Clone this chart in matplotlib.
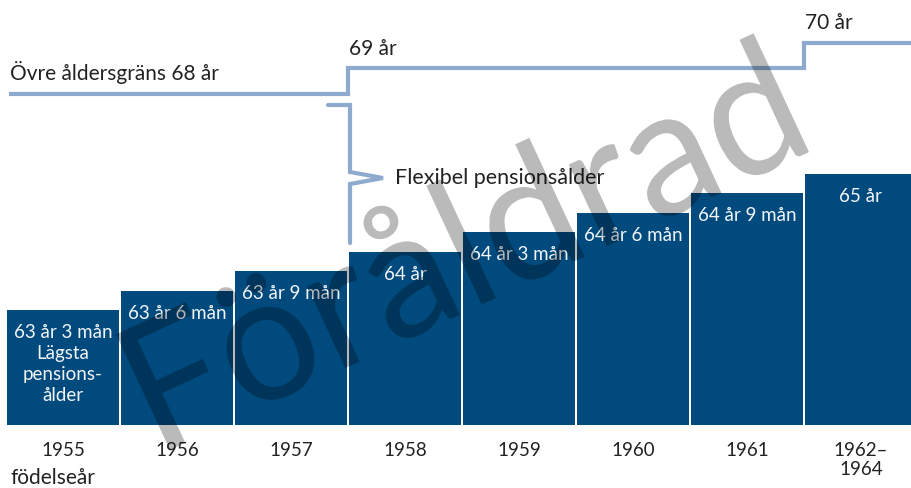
import matplotlib
matplotlib.use("Agg")
import matplotlib.pyplot as plt
import numpy as np
from matplotlib.textpath import TextPath
from matplotlib.patches import PathPatch
from matplotlib.font_manager import FontProperties
from matplotlib.transforms import Affine2D

plt.rcParams['font.family'] = ['Lato', 'DejaVu Sans']

# ---- data ----
years = ["1955", "1956", "1957", "1958", "1959", "1960", "1961", "1962–\n1964"]
min_age = [63.25, 63.5, 63.75, 64.0, 64.25, 64.5, 64.75, 65.0]
bar_labels = ["63 år 3 mån\nLägsta\npensions-\nålder", "63 år 6 mån", "63 år 9 mån",
              "64 år", "64 år 3 mån", "64 år 6 mån", "64 år 9 mån", "65 år"]
upper_limit = [68, 68, 68, 69, 69, 69, 69, 70]
upper_labels = {0: "Övre åldersgräns 68 år", 3: "69 år", 7: "70 år"}
flex_label = "Flexibel pensionsålder"
axis_label = "födelseår"
watermark = "Föråldrad"

BAR_COLOR = "#004a7d"
LINE_COLOR = "#8eaacf"
TEXT_COLOR = "#222222"

W, H = 912, 488
fig = plt.figure(figsize=(W / 100, H / 100), dpi=100)

# main axes: bars (age scale)
ax = fig.add_axes([0, 0, 1, 1])
ax.set_xlim(-0.552, 7.448)
ax.set_ylim(60.96, 67.24)
ax.axis('off')
base = 61.77
x = np.arange(len(years))
ax.bar(x, np.array(min_age) - base, bottom=base, width=0.982, color=BAR_COLOR, zorder=2)

for i, (v, lab) in enumerate(zip(min_age, bar_labels)):
    ax.annotate(lab, (i, v), xytext=(0, -10), textcoords='offset points',
                ha='center', va='top', color='#f2f5f9', fontsize=13.5,
                linespacing=1.28, zorder=3)

# year labels
for i, y in enumerate(years):
    ax.text(i, 0.094, y, transform=ax.get_xaxis_transform(), ha='center', va='top',
            fontsize=13.5, color=TEXT_COLOR, linespacing=1.1)
ax.text(0.011, 0.021, axis_label, transform=ax.transAxes, ha='left', va='center',
        fontsize=15, color=TEXT_COLOR)

# upper-limit step line on its own scale
ax2 = ax.twinx()
ax2.set_ylim(52.55, 71.686)
ax2.axis('off')
edges = np.concatenate([[-0.475], x[1:] - 0.5, [7.6]])
ax2.stairs(upper_limit, edges, baseline=None, color=LINE_COLOR, linewidth=3.0, zorder=2)
for i, lab in upper_labels.items():
    ax2.annotate(lab, (edges[i], upper_limit[i]), xytext=(1, 10), textcoords='offset points',
                 ha='left', va='baseline', fontsize=15, color=TEXT_COLOR)

# overlay in pixel coordinates (origin bottom-left) for the bracket and the watermark
ov = fig.add_axes([0, 0, 1, 1])
ov.set_xlim(0, W)
ov.set_ylim(0, H)
ov.axis('off')
ov.patch.set_alpha(0)
bx = [328, 350, 350, 383, 350, 350]
by = [H - v for v in [105, 105, 172, 178, 184, 243]]
ov.plot(bx, by, color=LINE_COLOR, linewidth=3.0, solid_capstyle='round',
        solid_joinstyle='miter')
ov.text(395, H - 178, flex_label, ha='left', va='center', fontsize=15.5, color=TEXT_COLOR)

# watermark, slightly condensed
tp = TextPath((0, 0), watermark, size=178, prop=FontProperties(family='Lato'))
bb = tp.get_extents()
target_len = 705.0
sx = target_len / bb.width
tr = Affine2D().translate(-bb.x0, 0).scale(sx, 1).rotate_deg(25).translate(170, H - 450)
ov.add_patch(PathPatch(tr.transform_path(tp), facecolor='black', edgecolor='none',
                       alpha=0.27, zorder=10))

fig.savefig("out.png", dpi=100)
